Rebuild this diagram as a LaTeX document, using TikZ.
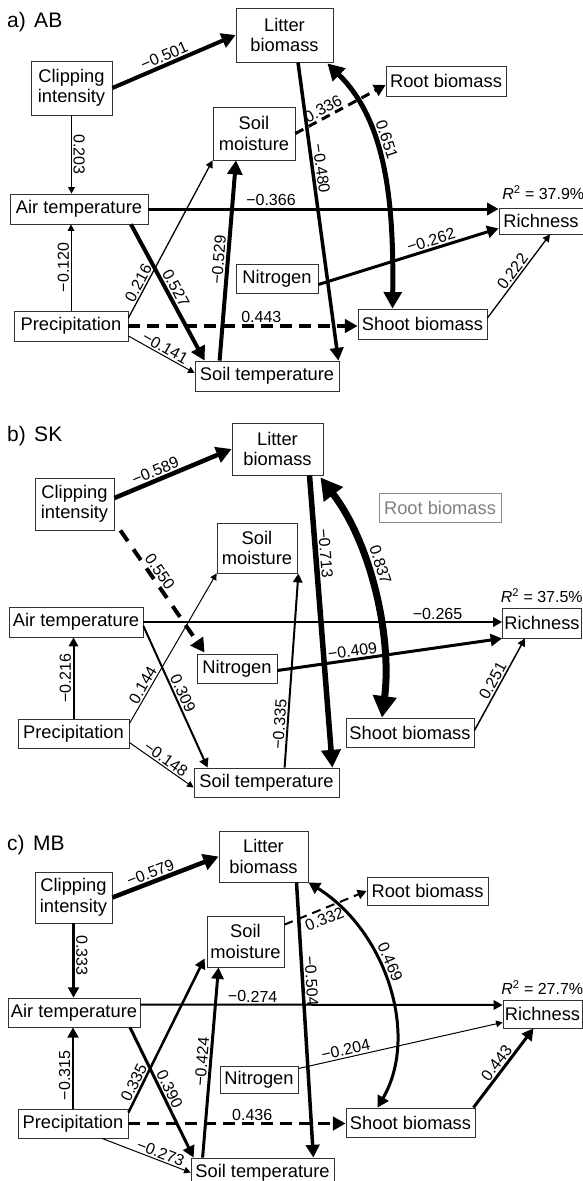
\documentclass[tikz,border=0pt]{standalone}
\usepackage{fontspec}
\setmainfont{Liberation Sans}
\usetikzlibrary{arrows.meta,calc}
\begin{document}
\begin{tikzpicture}[x=1pt,y=-1pt,
  box/.style={draw=black!80, line width=0.8pt, fill=white, align=center, inner sep=0pt, font=\fontsize{18.3}{20.5}\selectfont},
  sz/.style 2 args={minimum width=#1pt, minimum height=#2pt},
  grayed/.style={draw=black!45, text=black!50},
  lab/.style={font=\fontsize{16}{18}\selectfont, inner sep=1.5pt, sloped, allow upside down},
  ttl/.style={font=\fontsize{21}{24}\selectfont, anchor=base west, inner sep=0pt},
  rsq/.style={font=\fontsize{16}{18}\selectfont, anchor=base east, inner sep=0pt},
  arr/.style={-{Triangle[length=4pt 2.5, width=4pt 2.7]}},
  darr/.style={{Triangle[length=4pt 2.5, width=4pt 2.7]}-{Triangle[length=4pt 2.5, width=4pt 2.7]}},
  dsh/.style={dash pattern=on 12pt off 7pt},
  dshb/.style={dash pattern=on 9pt off 6pt},
  dshc/.style={dash pattern=on 13pt off 10pt},
]
\useasboundingbox (0,0) rectangle (583,1181);

% ---------------- panel a ----------------
\node[ttl] (tA) at (7,27) {a)\hspace{0.4em}AB};
\node[box, sz={97}{54}] (litA) at (284.5,35) {Litter\\biomass};
\node[box, sz={81}{54}] (clpA) at (71.5,88) {Clipping\\intensity};
\node[box, sz={82}{53}] (smA) at (254,133.5) {Soil\\moisture};
\node[box, sz={120}{30}] (rootA) at (446,81) {Root biomass};
\node[box, sz={138}{30}] (airA) at (79,209) {Air temperature};
\node[box, sz={114}{30}] (prcA) at (71,326) {Precipitation};
\node[box, sz={144}{30}] (stA) at (267,376) {Soil temperature};
\node[box, sz={82}{29}] (nA) at (277,278.5) {Nitrogen};
\node[box, sz={129}{30}] (shA) at (422.5,324) {Shoot biomass};
\node[box, sz={84}{26}] (rA) at (541,221) {Richness};
\node[rsq] (r2A) at ($(rA.north east)+(1,-8)$) {\textit{R}\textsuperscript{2} = 37.9\%};

\draw[arr, line width=4pt] (clpA.east) -- node[lab, above, pos=0.45] {−0.501} (litA.west);
\draw[arr, line width=1pt] (clpA.south) -- node[lab, above] {0.203} (clpA.south |- airA.north);
\draw[arr, line width=3pt] (airA.east) -- node[lab, above, pos=0.35] {−0.366} (airA.east -| rA.west);
\draw[arr, line width=4pt] ($(airA.south)+(52,0)$) -- node[lab, above] {0.527} ($(stA.north west)+(10,0)$);
\draw[arr, line width=1pt] (prcA.north) -- node[lab, above] {−0.120} (prcA.north |- airA.south);
\draw[arr, line width=1.3pt] ($(prcA.east)+(0,-8)$) -- node[lab, above, pos=0.2] {0.216} (smA.south west);
\draw[arr, dsh, line width=3.5pt] (prcA.east) -- node[lab, above, pos=0.58] {0.443} (prcA.east -| shA.west);
\draw[arr, line width=1pt] ($(prcA.east)+(0,10)$) -- node[lab, above] {−0.141} ($(stA.west)+(0,-3)$);
\draw[arr, line width=4pt] ($(stA.north west)+(25,0)$) -- node[lab, above] {−0.529} ($(smA.south)+(-18,0)$);
\draw[arr, line width=3.5pt] ($(litA.south)+(13.5,0)$) -- node[lab, above, pos=0.36] {−0.480} ($(stA.north east)+(-1,0)$);
\draw[darr, line width=5pt] ($(litA.south east)+(-6,1)$) .. controls ($(litA.south east)+(52,58)$) and ($(shA.north)+(-28.5,-109)$) .. node[lab, above=2pt, pos=0.4] {0.651} ($(shA.north)+(-30,0)$);
\draw[arr, dshb, line width=3pt] (smA.east) -- node[lab, above, pos=0.35] {0.336} ($(rootA.west)+(0,4)$);
\draw[arr, line width=3pt] ($(nA.east)+(0,6)$) -- node[lab, above, pos=0.64] {−0.262} ($(rA.south west)+(0,-6)$);
\draw[arr, line width=1.3pt] ($(shA.east)+(0,-6)$) -- node[lab, above] {0.222} ($(rA.south)+(9,0)$);

% ---------------- panel b ----------------
\node[ttl] (tB) at (7,441) {b)\hspace{0.4em}SK};
\node[box, sz={91}{52}] (litB) at (277.5,449) {Litter\\biomass};
\node[box, sz={79}{52}] (clpB) at (74.5,504) {Clipping\\intensity};
\node[box, grayed, sz={122}{29}] (rootB) at (440,507.5) {Root biomass};
\node[box, sz={80}{50}] (smB) at (257,548) {Soil\\moisture};
\node[box, sz={134}{30}] (airB) at (76,622) {Air temperature};
\node[box, sz={80}{29}] (nB) at (237,668.5) {Nitrogen};
\node[box, sz={111}{29}] (prcB) at (73.5,733.5) {Precipitation};
\node[box, sz={145}{29}] (stB) at (266.5,782.5) {Soil temperature};
\node[box, sz={128}{29}] (shB) at (410,732.5) {Shoot biomass};
\node[box, sz={79}{30}] (rB) at (542,623) {Richness};
\node[rsq] (r2B) at ($(rB.north east)+(1,-5)$) {\textit{R}\textsuperscript{2} = 37.5\%};

\draw[arr, line width=4.5pt] ($(clpB.east)+(0,-6)$) -- node[lab, above, pos=0.38] {−0.589} (litB.west);
\draw[arr, dshc, line width=4pt] ($(clpB.south east)+(6,0)$) -- node[lab, above, pos=0.38] {0.550} ($(nB.north west)+(8,-1)$);
\draw[arr, line width=2pt] (airB.east) -- node[lab, above, pos=0.82] {−0.265} (airB.east -| rB.west);
\draw[arr, line width=2pt] ($(airB.east)+(0,4)$) -- node[lab, above] {0.309} ($(stB.north west)+(14,0)$);
\draw[arr, line width=2pt] (prcB.north) -- node[lab, above] {−0.216} (prcB.north |- airB.south);
\draw[arr, line width=1pt] ($(prcB.east)+(0,-10)$) -- node[lab, above, pos=0.23] {0.144} (smB.south west);
\draw[arr, line width=1pt] ($(prcB.east)+(0,9)$) -- node[lab, above] {−0.148} ($(stB.west)+(0,5)$);
\draw[arr, line width=2pt] ($(stB.north west)+(91,0)$) -- node[lab, above, pos=0.22] {−0.335} ($(smB.south east)+(1,0)$);
\draw[arr, line width=5.5pt] ($(litB.south)+(32,0)$) -- node[lab, above, pos=0.27] {−0.713} ($(stB.north east)+(-7,0)$);
\draw[darr, line width=7pt] ($(litB.south east)+(-3,2)$) .. controls ($(litB.south east)+(49,70)$) and ($(shB.north)+(-18,-78)$) .. node[lab, above=3pt, pos=0.4] {0.837} ($(shB.north)+(-28,0)$);
\draw[arr, line width=3pt] ($(nB.east)+(0,2)$) -- node[lab, above, pos=0.34] {−0.409} (rB.south west);
\draw[arr, line width=1.5pt] ($(shB.east)+(0,-2)$) -- node[lab, above] {0.251} ($(rB.south)+(-17,0)$);

% ---------------- panel c ----------------
\node[ttl] (tC) at (7,850) {c)\hspace{0.4em}MB};
\node[box, sz={89}{51}] (litC) at (263.5,856.5) {Litter\\biomass};
\node[box, sz={77}{51}] (clpC) at (73.5,897.5) {Clipping\\intensity};
\node[box, sz={77}{51}] (smC) at (245.5,941.5) {Soil\\moisture};
\node[box, sz={121}{28}] (rootC) at (427.5,891) {Root biomass};
\node[box, sz={132}{29}] (airC) at (74,1012.5) {Air temperature};
\node[box, sz={78}{27}] (nC) at (259,1079.5) {Nitrogen};
\node[box, sz={110}{29}] (prcC) at (73,1123.5) {Precipitation};
\node[box, sz={143}{29}] (stC) at (262.5,1172.5) {Soil temperature};
\node[box, sz={129}{29}] (shC) at (410.5,1122.5) {Shoot biomass};
\node[box, sz={79}{28}] (rC) at (542.5,1014) {Richness};
\node[rsq] (r2C) at ($(rC.north east)+(1,-5)$) {\textit{R}\textsuperscript{2} = 27.7\%};

\draw[arr, line width=4.5pt] (clpC.east) -- node[lab, above, pos=0.39] {−0.579} (litC.west);
\draw[arr, line width=2.5pt] (clpC.south) -- node[lab, above, pos=0.43] {0.333} (clpC.south |- airC.north);
\draw[arr, line width=2pt] ($(airC.east)+(0,-8)$) -- node[lab, above, pos=0.31] {−0.274} ($(rC.west)+(0,-9)$);
\draw[arr, line width=3pt] ($(airC.south)+(56,0)$) -- node[lab, above] {0.390} ($(stC.north west)+(3,0)$);
\draw[arr, line width=2.5pt] (prcC.north) -- node[lab, above, pos=0.41] {−0.315} (prcC.north |- airC.south);
\draw[arr, line width=2.5pt] ($(prcC.east)+(0,-11)$) -- node[lab, above, pos=0.17] {0.335} ($(smC.south west)+(-2,-9)$);
\draw[arr, dsh, line width=3.5pt] (prcC.east) -- node[lab, above, pos=0.57] {0.436} (prcC.east -| shC.west);
\draw[arr, line width=1pt] ($(prcC.south)+(29,0)$) -- node[lab, above, pos=0.63] {−0.273} (stC.west);
\draw[arr, line width=3pt] ($(stC.north west)+(12,0)$) -- node[lab, above] {−0.424} ($(smC.south)+(-27,0)$);
\draw[arr, line width=3.5pt] ($(litC.south)+(33,0)$) -- node[lab, above, pos=0.36] {−0.504} ($(stC.north east)+(-21,0)$);
\draw[darr, line width=3pt] (litC.south east) .. controls ($(litC.south east)+(77,48)$) and ($(shC.north)+(9.5,-73)$) .. node[lab, above=2pt, pos=0.42] {0.469} ($(shC.north)+(-33,0)$);
\draw[arr, dshb, line width=2pt] ($(smC.north east)+(0,9)$) -- node[lab, below=2pt, pos=0.44] {0.332} (rootC.west);
\draw[arr, line width=1pt] ($(nC.east)+(0,-11)$) -- node[lab, above, pos=0.24] {−0.204} ($(rC.south west)+(0,-6)$);
\draw[arr, line width=3pt] ($(shC.north east)+(-2,0)$) -- node[lab, above] {0.443} ($(rC.south)+(-9,0)$);
\end{tikzpicture}
\end{document}
